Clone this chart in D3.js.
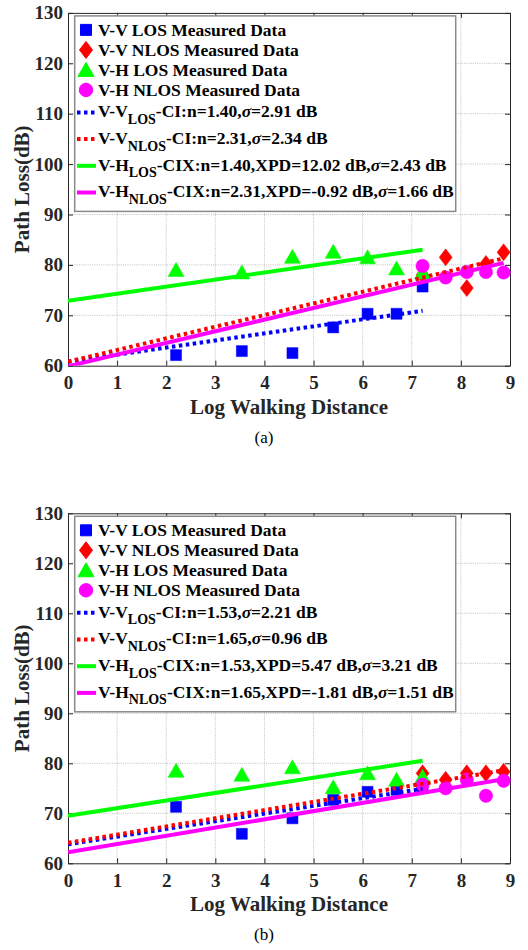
<!DOCTYPE html>
<html><head><meta charset="utf-8">
<script src="https://cdn.jsdelivr.net/npm/d3@7"></script>
<style>html,body{margin:0;padding:0;background:#fff;}svg{display:block;}</style>
</head><body>
<script>
// ---------- data ----------
const xTicks = [0,1,2,3,4,5,6,7,8,9];
const yTicks = [60,70,80,90,100,110,120,130];
const xLos  = [2.2, 3.54, 4.57, 5.4, 6.1, 6.69, 7.22];
const xNlos = [7.22, 7.69, 8.12, 8.51, 8.87];

// panel (a)
const vvLosA  = [62.1, 62.9, 62.5, 67.6, 70.3, 70.3, 75.7];
const vvNlosA = [78.0, 81.5, 75.4, 80.2, 82.5];
const vhLosA  = [79.0, 78.5, 81.6, 82.6, 81.5, 79.3, 78.5];
const vhNlosA = [79.8, 77.5, 78.6, 78.6, 78.5];
const fitVvLosA  = [[0,60.8],[7.22,70.9]];
const fitVvNlosA = [[0,60.8],[8.87,81.3]];
const fitVhLosA  = [[0,72.9],[7.22,83.0]];
const fitVhNlosA = [[0,59.9],[8.87,80.4]];
const legendA = [
  ["V-V","LOS","-CI:n=1.40,","=2.91 dB"],
  ["V-V","NLOS","-CI:n=2.31,","=2.34 dB"],
  ["V-H","LOS","-CIX:n=1.40,XPD=12.02 dB,","=2.43 dB"],
  ["V-H","NLOS","-CIX:n=2.31,XPD=-0.92 dB,","=1.66 dB"]
];

// panel (b)
const vvLosB  = [71.3, 65.9, 69.0, 72.7, 74.3, 74.7, 75.2];
const vvNlosB = [78.0, 76.7, 78.0, 78.0, 78.3];
const vhLosB  = [78.5, 77.7, 79.2, 75.2, 78.0, 76.7, 77.3];
const vhNlosB = [75.7, 75.0, 76.7, 73.5, 76.5];
const fitVvLosB  = [[0,63.8],[7.22,74.9]];
const fitVvNlosB = [[0,64.1],[8.87,78.6]];
const fitVhLosB  = [[0,69.5],[7.22,80.5]];
const fitVhNlosB = [[0,62.2],[8.87,76.8]];
const legendB = [
  ["V-V","LOS","-CI:n=1.53,","=2.21 dB"],
  ["V-V","NLOS","-CI:n=1.65,","=0.96 dB"],
  ["V-H","LOS","-CIX:n=1.53,XPD=5.47 dB,","=3.21 dB"],
  ["V-H","NLOS","-CIX:n=1.65,XPD=-1.81 dB,","=1.51 dB"]
];
const markerLabels = ["V-V LOS Measured Data","V-V NLOS Measured Data","V-H LOS Measured Data","V-H NLOS Measured Data"];
const panelLabels = ["(a)","(b)"];

// ---------- style ----------
const BLUE="#0000ff", RED="#ff0000", GREEN="#00ff00", MAG="#ff00ff";
const FONT="'Liberation Serif','Times New Roman',serif";
const W=528, H=950;
const svg = d3.select("body").append("svg").attr("width",W).attr("height",H)
  .style("background","#fff");

const x = d3.scaleLinear().domain([0,9]).range([68,510]);

const shapes = {
  square: "M-5.5,-5.5H5.5V5.5H-5.5Z",
  diamond:"M0,-8.5L6.5,0L0,8.5L-6.5,0Z",
  triangle:"M0,-7.5L8,6.5L-8,6.5Z",
  circle: d3.symbol(d3.symbolCircle, Math.PI*6.7*6.7)()
};

function panel(idx, top, bottom, pts, fits, leg){
  const y = d3.scaleLinear().domain([60,130]).range([bottom, top]);
  const g = svg.append("g");
  const clipId = "clip"+idx;
  svg.append("clipPath").attr("id",clipId).append("rect")
    .attr("x",x(0)).attr("y",y(130)).attr("width",x(9)-x(0)).attr("height",y(60)-y(130));

  // grid
  const grid = g.append("g").attr("stroke","#b0b0b0").attr("stroke-width",0.8).attr("stroke-dasharray","1,1.2");
  grid.selectAll("line.gx").data(xTicks.slice(1,-1)).join("line")
    .attr("x1",d=>x(d)).attr("x2",d=>x(d)).attr("y1",y(60)).attr("y2",y(130));
  grid.selectAll("line.gy").data(yTicks.slice(1,-1)).join("line")
    .attr("x1",x(0)).attr("x2",x(9)).attr("y1",d=>y(d)).attr("y2",d=>y(d));

  // axes (inward ticks, box)
  const ax = (gen, tr) => {
    const a = g.append("g").attr("transform",tr).call(gen);
    a.select(".domain").attr("stroke","#262626");
    a.selectAll(".tick line").attr("stroke","#262626");
    return a;
  };
  const xb = ax(d3.axisBottom(x).tickValues(xTicks).tickSizeInner(-5).tickSizeOuter(0).tickPadding(10).tickFormat(d3.format("d")), `translate(0,${y(60)})`);
  xb.selectAll("text").attr("font-family",FONT).attr("font-weight","bold").attr("font-size",19).attr("fill","#262626");
  const yl = ax(d3.axisLeft(y).tickValues(yTicks).tickSizeInner(-5).tickSizeOuter(0).tickPadding(5).tickFormat(d3.format("d")), `translate(${x(0)},0)`);
  yl.selectAll("text").attr("font-family",FONT).attr("font-weight","bold").attr("font-size",19).attr("fill","#262626");
  ax(d3.axisTop(x).tickValues(xTicks).tickSizeInner(-5).tickSizeOuter(0).tickFormat(""), `translate(0,${y(130)})`);
  ax(d3.axisRight(y).tickValues(yTicks).tickSizeInner(-5).tickSizeOuter(0).tickFormat(""), `translate(${x(9)},0)`);

  // markers
  const mk = (xs, ys, shape, col) => g.append("g").selectAll("path").data(ys).join("path")
    .attr("d",shapes[shape]).attr("fill",col).attr("stroke",col).attr("stroke-width",0.5)
    .attr("transform",(d,i)=>`translate(${x(xs[i])},${y(d)})`);
  mk(xLos, pts[0], "square", BLUE);
  mk(xNlos, pts[1], "diamond", RED);
  mk(xLos, pts[2], "triangle", GREEN);
  mk(xNlos, pts[3], "circle", MAG);

  // fit lines
  const line = d3.line().x(d=>x(d[0])).y(d=>y(d[1]));
  const lg = g.append("g").attr("clip-path",`url(#${clipId})`).attr("fill","none");
  const fitStyles = [[BLUE,"3.5,3.5"],[RED,"3.5,3.5"],[GREEN,null],[MAG,null]];
  fits.forEach((f,i)=>{
    lg.append("path").attr("d",line(f)).attr("stroke",fitStyles[i][0]).attr("stroke-width",4)
      .attr("stroke-dasharray",fitStyles[i][1]);
  });

  // legend
  const L = g.append("g");
  L.append("rect").attr("x",74.7).attr("y",top+3).attr("width",381).attr("height",195.5)
    .attr("fill","#fff").attr("stroke","#8a8a8a").attr("stroke-width",1.5);
  const mrows = [17,37,57,77];
  const mshape = [["square",BLUE],["diamond",RED],["triangle",GREEN],["circle",MAG]];
  mrows.forEach((r,i)=>{
    L.append("path").attr("d",shapes[mshape[i][0]]).attr("fill",mshape[i][1]).attr("stroke",mshape[i][1])
      .attr("transform",`translate(86,${top+r})`);
    L.append("text").attr("x",98).attr("y",top+r+5.9).attr("font-family",FONT).attr("font-weight","bold")
      .attr("font-size",17.5).attr("fill","#000").text(markerLabels[i]);
  });
  const lrows = [98.5,125.2,151.9,178.6];
  lrows.forEach((r,i)=>{
    L.append("line").attr("x1",77).attr("x2",96).attr("y1",top+r+1).attr("y2",top+r+1)
      .attr("stroke",fitStyles[i][0]).attr("stroke-width",4)
      .attr("stroke-dasharray", fitStyles[i][1] ? "3.5,3.5" : null);
    const t = L.append("text").attr("x",98).attr("y",top+r+5.9).attr("font-family",FONT)
      .attr("font-weight","bold").attr("font-size",17.5).attr("fill","#000");
    t.append("tspan").text(leg[i][0]);
    t.append("tspan").attr("font-size",14).attr("dy",6.5).text(leg[i][1]);
    t.append("tspan").attr("dy",-6.5).text(leg[i][2]);
    t.append("tspan").attr("font-style","italic").text("σ");
    t.append("tspan").text(leg[i][3]);
  });

  // axis titles
  g.append("text").attr("x",(x(0)+x(9))/2).attr("y",bottom+48).attr("text-anchor","middle")
    .attr("font-family",FONT).attr("font-weight","bold").attr("font-size",21).attr("fill","#262626")
    .text("Log Walking Distance");
  g.append("text").attr("transform",`translate(29,${(top+bottom)/2}) rotate(-90)`).attr("text-anchor","middle")
    .attr("font-family",FONT).attr("font-weight","bold").attr("font-size",21).attr("fill","#262626")
    .text("Path Loss(dB)");
  g.append("text").attr("x",264).attr("y",bottom+77).attr("text-anchor","middle")
    .attr("font-family",FONT).attr("font-size",17).attr("fill","#000").text(panelLabels[idx]);
}

panel(0, 12.9, 365.7, [vvLosA,vvNlosA,vhLosA,vhNlosA], [fitVvLosA,fitVvNlosA,fitVhLosA,fitVhNlosA], legendA);
panel(1, 513.3, 863.3, [vvLosB,vvNlosB,vhLosB,vhNlosB], [fitVvLosB,fitVvNlosB,fitVhLosB,fitVhNlosB], legendB);
</script>
</body></html>
